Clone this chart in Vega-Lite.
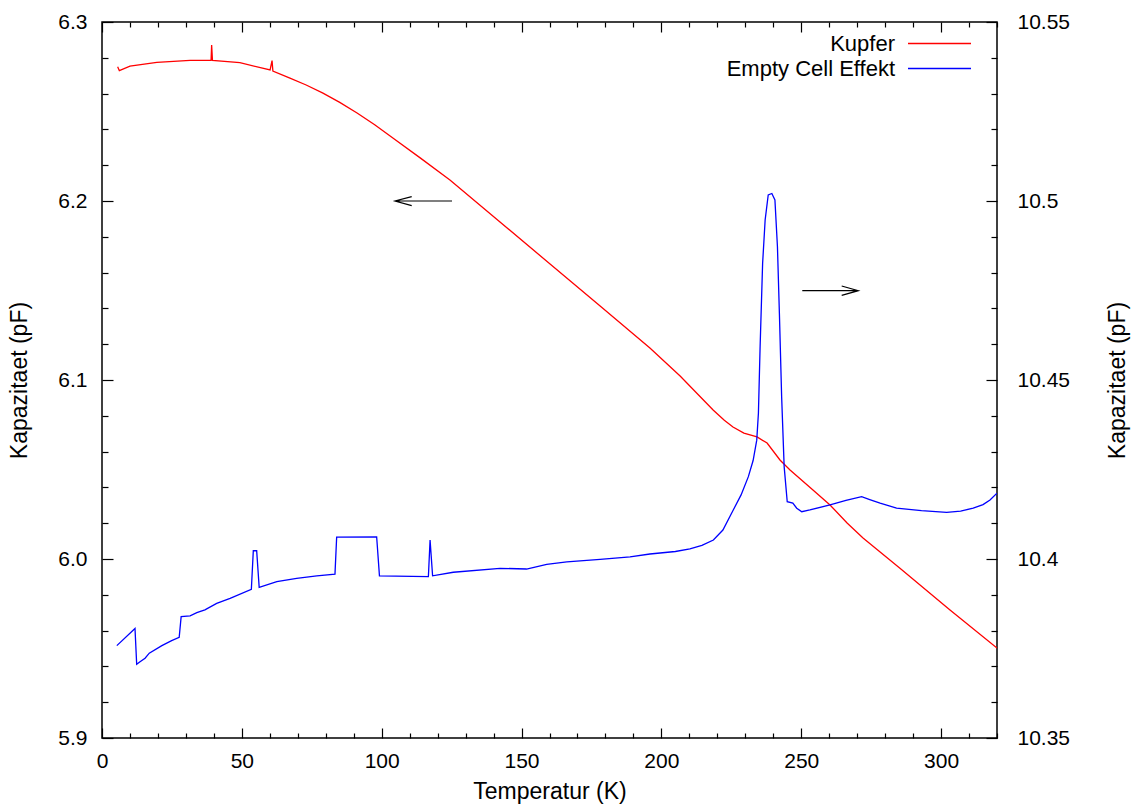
{
  "$schema": "https://vega.github.io/schema/vega-lite/v6.json",
  "width": 895,
  "height": 716,
  "autosize": {"type": "none"},
  "padding": {"left": 102, "top": 22, "right": 137, "bottom": 68},
  "background": "white",
  "datasets": {
    "kupfer": [
      {"series": "Kupfer", "T": 5.6, "C": 6.2750},
      {"series": "Kupfer", "T": 6.2, "C": 6.2728},
      {"series": "Kupfer", "T": 10.0, "C": 6.2754},
      {"series": "Kupfer", "T": 19.6, "C": 6.2775},
      {"series": "Kupfer", "T": 31.5, "C": 6.2786},
      {"series": "Kupfer", "T": 39.0, "C": 6.2786},
      {"series": "Kupfer", "T": 39.2, "C": 6.2872},
      {"series": "Kupfer", "T": 39.5, "C": 6.2785},
      {"series": "Kupfer", "T": 49.3, "C": 6.2773},
      {"series": "Kupfer", "T": 60.1, "C": 6.2732},
      {"series": "Kupfer", "T": 60.8, "C": 6.2784},
      {"series": "Kupfer", "T": 61.1, "C": 6.2726},
      {"series": "Kupfer", "T": 67.2, "C": 6.2687},
      {"series": "Kupfer", "T": 73.0, "C": 6.2648},
      {"series": "Kupfer", "T": 79.0, "C": 6.2603},
      {"series": "Kupfer", "T": 85.0, "C": 6.2551},
      {"series": "Kupfer", "T": 91.2, "C": 6.2492},
      {"series": "Kupfer", "T": 97.5, "C": 6.2426},
      {"series": "Kupfer", "T": 104.0, "C": 6.2352},
      {"series": "Kupfer", "T": 114.0, "C": 6.2238},
      {"series": "Kupfer", "T": 124.4, "C": 6.2117},
      {"series": "Kupfer", "T": 142.3, "C": 6.1883},
      {"series": "Kupfer", "T": 160.2, "C": 6.1648},
      {"series": "Kupfer", "T": 178.1, "C": 6.1413},
      {"series": "Kupfer", "T": 195.9, "C": 6.1179},
      {"series": "Kupfer", "T": 206.7, "C": 6.1022},
      {"series": "Kupfer", "T": 218.5, "C": 6.0832},
      {"series": "Kupfer", "T": 222.5, "C": 6.0775},
      {"series": "Kupfer", "T": 225.6, "C": 6.0737},
      {"series": "Kupfer", "T": 229.5, "C": 6.0703},
      {"series": "Kupfer", "T": 234.2, "C": 6.0682},
      {"series": "Kupfer", "T": 237.8, "C": 6.0648},
      {"series": "Kupfer", "T": 242.4, "C": 6.0553},
      {"series": "Kupfer", "T": 246.0, "C": 6.0497},
      {"series": "Kupfer", "T": 254.2, "C": 6.0385},
      {"series": "Kupfer", "T": 260.3, "C": 6.0302},
      {"series": "Kupfer", "T": 266.4, "C": 6.0201},
      {"series": "Kupfer", "T": 272.1, "C": 6.0117},
      {"series": "Kupfer", "T": 285.3, "C": 5.9949},
      {"series": "Kupfer", "T": 303.2, "C": 5.9715},
      {"series": "Kupfer", "T": 320.0, "C": 5.9503}
    ],
    "empty": [
      {"series": "Empty Cell Effekt", "T": 5.3, "C": 10.3758},
      {"series": "Empty Cell Effekt", "T": 11.8, "C": 10.3806},
      {"series": "Empty Cell Effekt", "T": 12.4, "C": 10.3706},
      {"series": "Empty Cell Effekt", "T": 13.6, "C": 10.3713},
      {"series": "Empty Cell Effekt", "T": 15.4, "C": 10.3723},
      {"series": "Empty Cell Effekt", "T": 16.9, "C": 10.3737},
      {"series": "Empty Cell Effekt", "T": 21.4, "C": 10.3758},
      {"series": "Empty Cell Effekt", "T": 24.9, "C": 10.3772},
      {"series": "Empty Cell Effekt", "T": 27.6, "C": 10.3781},
      {"series": "Empty Cell Effekt", "T": 28.3, "C": 10.3839},
      {"series": "Empty Cell Effekt", "T": 31.5, "C": 10.3841},
      {"series": "Empty Cell Effekt", "T": 33.9, "C": 10.3850},
      {"series": "Empty Cell Effekt", "T": 36.8, "C": 10.3858},
      {"series": "Empty Cell Effekt", "T": 41.0, "C": 10.3876},
      {"series": "Empty Cell Effekt", "T": 45.8, "C": 10.3890},
      {"series": "Empty Cell Effekt", "T": 53.4, "C": 10.3915},
      {"series": "Empty Cell Effekt", "T": 54.1, "C": 10.4023},
      {"series": "Empty Cell Effekt", "T": 55.3, "C": 10.4023},
      {"series": "Empty Cell Effekt", "T": 56.2, "C": 10.3921},
      {"series": "Empty Cell Effekt", "T": 62.5, "C": 10.3937},
      {"series": "Empty Cell Effekt", "T": 69.6, "C": 10.3946},
      {"series": "Empty Cell Effekt", "T": 76.8, "C": 10.3953},
      {"series": "Empty Cell Effekt", "T": 83.3, "C": 10.3958},
      {"series": "Empty Cell Effekt", "T": 83.9, "C": 10.4061},
      {"series": "Empty Cell Effekt", "T": 98.2, "C": 10.4062},
      {"series": "Empty Cell Effekt", "T": 99.2, "C": 10.3953},
      {"series": "Empty Cell Effekt", "T": 116.7, "C": 10.3951},
      {"series": "Empty Cell Effekt", "T": 117.3, "C": 10.4053},
      {"series": "Empty Cell Effekt", "T": 118.2, "C": 10.3953},
      {"series": "Empty Cell Effekt", "T": 125.6, "C": 10.3963},
      {"series": "Empty Cell Effekt", "T": 142.3, "C": 10.3974},
      {"series": "Empty Cell Effekt", "T": 151.8, "C": 10.3972},
      {"series": "Empty Cell Effekt", "T": 159.0, "C": 10.3985},
      {"series": "Empty Cell Effekt", "T": 166.2, "C": 10.3992},
      {"series": "Empty Cell Effekt", "T": 178.1, "C": 10.3999},
      {"series": "Empty Cell Effekt", "T": 188.8, "C": 10.4006},
      {"series": "Empty Cell Effekt", "T": 195.9, "C": 10.4014},
      {"series": "Empty Cell Effekt", "T": 205.0, "C": 10.4021},
      {"series": "Empty Cell Effekt", "T": 210.2, "C": 10.4028},
      {"series": "Empty Cell Effekt", "T": 214.5, "C": 10.4038},
      {"series": "Empty Cell Effekt", "T": 218.6, "C": 10.4053},
      {"series": "Empty Cell Effekt", "T": 222.0, "C": 10.4081},
      {"series": "Empty Cell Effekt", "T": 225.7, "C": 10.4137},
      {"series": "Empty Cell Effekt", "T": 228.5, "C": 10.4179},
      {"series": "Empty Cell Effekt", "T": 231.1, "C": 10.4230},
      {"series": "Empty Cell Effekt", "T": 232.8, "C": 10.4275},
      {"series": "Empty Cell Effekt", "T": 234.1, "C": 10.4332},
      {"series": "Empty Cell Effekt", "T": 234.7, "C": 10.4408},
      {"series": "Empty Cell Effekt", "T": 235.3, "C": 10.4593},
      {"series": "Empty Cell Effekt", "T": 236.2, "C": 10.4826},
      {"series": "Empty Cell Effekt", "T": 237.1, "C": 10.4947},
      {"series": "Empty Cell Effekt", "T": 238.2, "C": 10.5017},
      {"series": "Empty Cell Effekt", "T": 239.5, "C": 10.5021},
      {"series": "Empty Cell Effekt", "T": 240.6, "C": 10.5003},
      {"series": "Empty Cell Effekt", "T": 241.5, "C": 10.4872},
      {"series": "Empty Cell Effekt", "T": 242.2, "C": 10.4686},
      {"series": "Empty Cell Effekt", "T": 243.0, "C": 10.4453},
      {"series": "Empty Cell Effekt", "T": 243.9, "C": 10.4258},
      {"series": "Empty Cell Effekt", "T": 245.0, "C": 10.4160},
      {"series": "Empty Cell Effekt", "T": 247.0, "C": 10.4156},
      {"series": "Empty Cell Effekt", "T": 248.4, "C": 10.4142},
      {"series": "Empty Cell Effekt", "T": 250.2, "C": 10.4132},
      {"series": "Empty Cell Effekt", "T": 253.1, "C": 10.4137},
      {"series": "Empty Cell Effekt", "T": 260.3, "C": 10.4151},
      {"series": "Empty Cell Effekt", "T": 266.0, "C": 10.4164},
      {"series": "Empty Cell Effekt", "T": 271.6, "C": 10.4174},
      {"series": "Empty Cell Effekt", "T": 274.5, "C": 10.4166},
      {"series": "Empty Cell Effekt", "T": 278.2, "C": 10.4156},
      {"series": "Empty Cell Effekt", "T": 284.1, "C": 10.4142},
      {"series": "Empty Cell Effekt", "T": 293.0, "C": 10.4135},
      {"series": "Empty Cell Effekt", "T": 302.0, "C": 10.4130},
      {"series": "Empty Cell Effekt", "T": 307.0, "C": 10.4134},
      {"series": "Empty Cell Effekt", "T": 311.5, "C": 10.4142},
      {"series": "Empty Cell Effekt", "T": 315.0, "C": 10.4152},
      {"series": "Empty Cell Effekt", "T": 317.5, "C": 10.4165},
      {"series": "Empty Cell Effekt", "T": 320.0, "C": 10.4184}
    ],
    "arrows": [
      {"id": "L", "k": 0, "T": 110.73, "C": 6.2024},
      {"id": "L", "k": 1, "T": 104.76, "C": 6.2},
      {"id": "L", "k": 2, "T": 110.73, "C": 6.1974},
      {"id": "L", "k": 3, "T": 104.76, "C": 6.2},
      {"id": "L", "k": 4, "T": 125.14, "C": 6.2},
      {"id": "R", "k": 0, "T": 264.47, "C": 6.1525},
      {"id": "R", "k": 1, "T": 270.41, "C": 6.1499},
      {"id": "R", "k": 2, "T": 264.47, "C": 6.1473},
      {"id": "R", "k": 3, "T": 270.41, "C": 6.1499},
      {"id": "R", "k": 4, "T": 250.38, "C": 6.1499}
    ]
  },
  "layer": [
    {
      "layer": [
        {
          "data": {"name": "kupfer"},
          "mark": {"type": "line", "strokeWidth": 1.3, "clip": true},
          "encoding": {
            "x": {
              "field": "T", "type": "quantitative",
              "scale": {"domain": [0, 320], "nice": false, "zero": false},
              "axis": {
                "orient": "bottom",
                "title": "Temperatur (K)",
                "values": [0,10,20,30,40,50,60,70,80,90,100,110,120,130,140,150,160,170,180,190,200,210,220,230,240,250,260,270,280,290,300,310,320],
                "tickSize": {"condition": {"test": "datum.value % 50 === 0", "value": -10}, "value": -5},
                "labelExpr": "datum.value % 50 === 0 ? datum.label : ''",
                "labelOverlap": false,
                "labelPadding": 22,
                "titlePadding": 4
              }
            },
            "y": {
              "field": "C", "type": "quantitative",
              "scale": {"domain": [5.9, 6.3], "nice": false, "zero": false},
              "axis": {
                "orient": "left",
                "title": "Kapazitaet (pF)",
                "format": ".1f",
                "values": [5.9,5.92,5.94,5.96,5.98,6.0,6.02,6.04,6.06,6.08,6.1,6.12,6.14,6.16,6.18,6.2,6.22,6.24,6.26,6.28,6.3],
                "tickSize": {"condition": {"test": "abs(datum.value*10 - round(datum.value*10)) < 0.001", "value": -11}, "value": -6},
                "labelExpr": "abs(datum.value*10 - round(datum.value*10)) < 0.001 ? datum.label : ''",
                "labelOverlap": false,
                "labelPadding": 26,
                "titlePadding": 26
              }
            },
            "color": {
              "field": "series", "type": "nominal",
              "scale": {"domain": ["Kupfer", "Empty Cell Effekt"], "range": ["#ff0000", "#0000ff"]},
              "legend": {"title": null}
            }
          }
        },
        {
          "data": {"name": "arrows"},
          "mark": {"type": "line", "color": "black", "strokeWidth": 1.2},
          "encoding": {
            "x": {
              "field": "T", "type": "quantitative",
              "axis": {
                "orient": "bottom",
                "title": "Temperatur (K)",
                "values": [0,10,20,30,40,50,60,70,80,90,100,110,120,130,140,150,160,170,180,190,200,210,220,230,240,250,260,270,280,290,300,310,320],
                "tickSize": {"condition": {"test": "datum.value % 50 === 0", "value": -10}, "value": -5},
                "labelExpr": "datum.value % 50 === 0 ? datum.label : ''",
                "labelOverlap": false,
                "labelPadding": 22,
                "titlePadding": 4
              }
            },
            "y": {
              "field": "C", "type": "quantitative",
              "axis": {
                "orient": "left",
                "title": "Kapazitaet (pF)",
                "format": ".1f",
                "values": [5.9,5.92,5.94,5.96,5.98,6.0,6.02,6.04,6.06,6.08,6.1,6.12,6.14,6.16,6.18,6.2,6.22,6.24,6.26,6.28,6.3],
                "tickSize": {"condition": {"test": "abs(datum.value*10 - round(datum.value*10)) < 0.001", "value": -11}, "value": -6},
                "labelExpr": "abs(datum.value*10 - round(datum.value*10)) < 0.001 ? datum.label : ''",
                "labelOverlap": false,
                "labelPadding": 26,
                "titlePadding": 26
              }
            },
            "detail": {"field": "id", "type": "nominal"},
            "order": {"field": "k", "type": "quantitative"}
          }
        }
      ]
    },
    {
      "data": {"name": "empty"},
      "mark": {"type": "line", "strokeWidth": 1.3, "clip": true},
      "encoding": {
        "x": {
          "field": "T", "type": "quantitative",
          "scale": {"domain": [0, 320], "nice": false, "zero": false},
          "axis": {
            "orient": "top",
            "title": null,
            "labels": false,
            "labelOverlap": false,
            "values": [0,10,20,30,40,50,60,70,80,90,100,110,120,130,140,150,160,170,180,190,200,210,220,230,240,250,260,270,280,290,300,310,320],
            "tickSize": {"condition": {"test": "datum.value % 50 === 0", "value": -10}, "value": -5}
          }
        },
        "y": {
          "field": "C", "type": "quantitative",
          "scale": {"domain": [10.35, 10.55], "nice": false, "zero": false},
          "axis": {
            "orient": "right",
            "title": "Kapazitaet (pF)",
            "titleAngle": 270,
            "format": "~g",
            "values": [10.35,10.36,10.37,10.38,10.39,10.4,10.41,10.42,10.43,10.44,10.45,10.46,10.47,10.48,10.49,10.5,10.51,10.52,10.53,10.54,10.55],
            "tickSize": {"condition": {"test": "abs(datum.value*20 - round(datum.value*20)) < 0.001", "value": -11}, "value": -6},
            "labelExpr": "abs(datum.value*20 - round(datum.value*20)) < 0.001 ? datum.label : ''",
            "labelOverlap": false,
            "labelPadding": 31,
            "titlePadding": 60
          }
        },
        "color": {"field": "series", "type": "nominal"}
      }
    }
  ],
  "resolve": {"scale": {"y": "independent"}, "axis": {"x": "independent"}},
  "config": {
    "font": "Liberation Sans",
    "view": {"stroke": "black", "strokeWidth": 1.5},
    "axis": {
      "domain": false,
      "grid": false,
      "labelFont": "Liberation Sans",
      "labelFontSize": 21,
      "labelColor": "black",
      "titleFont": "Liberation Sans",
      "titleFontSize": 23,
      "titleFontWeight": "normal",
      "titleColor": "black",
      "tickColor": "black",
      "tickWidth": 1.2,
      "labelOverlap": false,
      "labelFlush": false,
      "labelBound": false
    },
    "legend": {
      "orient": "none",
      "legendX": 826,
      "legendY": 10,
      "padding": 0,
      "symbolType": "M-3,0H3",
      "symbolSize": 441,
      "symbolStrokeWidth": 1.3,
      "labelFont": "Liberation Sans",
      "labelFontSize": 22,
      "labelColor": "black",
      "labelAlign": "right",
      "labelOffset": -56,
      "rowPadding": 2,
      "labelLimit": 400
    }
  }
}
